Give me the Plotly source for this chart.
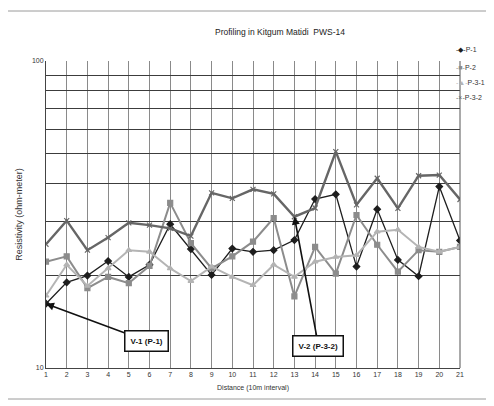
import math
import plotly.graph_objects as go

distance = list(range(1, 22))
p1 = [16.2, 19.0, 20.0, 22.3, 19.8, 21.7, 29.4, 24.4, 20.1, 24.5, 23.9, 24.2, 26.1,
      35.5, 36.8, 21.4, 32.9, 22.5, 19.9, 39.0, 26.0]
p2 = [22.2, 23.1, 18.2, 19.8, 18.9, 21.5, 34.5, 25.5, 21.1, 23.1, 25.8, 30.8, 17.1,
      24.8, 20.3, 31.5, 25.2, 20.6, 24.2, 23.9, 24.8]
p31 = [17.2, 21.7, 18.5, 21.1, 24.2, 23.9, 21.1, 19.2, 21.4, 19.8, 18.6, 21.7, 19.8,
       22.2, 23.0, 23.3, 27.8, 28.2, 24.8, 23.9, 24.8]
p32 = [25.3, 30.2, 24.2, 26.6, 29.7, 29.2, 28.5, 26.9, 37.2, 35.7, 38.2, 36.9, 31.1,
       33.2, 50.7, 34.0, 41.5, 33.1, 42.3, 42.5, 35.4]
series_names = ["P-1", "P-2", "P-3-1", "P-3-2"]
y_gridvals = [10, 20, 30, 40, 50, 60, 70, 80, 90, 100]
y_ticktext = ["10", "", "", "", "", "", "", "", "", "100"]

FONT = "Liberation Sans, Arial, sans-serif"

styles = [
    dict(color="#1e1e1e", width=1.3, symbol="diamond", size=5, glyph="◆"),
    dict(color="#8c8c8c", width=2.0, symbol="square", size=5, glyph="■"),
    dict(color="#b4b4b4", width=2.0, symbol="triangle-up", size=5, glyph="▲"),
    dict(color="#666666", width=2.4, symbol="x-thin-open", size=5, glyph="×"),
]

fig = go.Figure()
for name, vals, st in zip(series_names, [p1, p2, p31, p32], styles):
    fig.add_trace(go.Scatter(
        x=distance, y=vals, name=name, mode="lines+markers",
        line=dict(color=st["color"], width=st["width"]),
        marker=dict(symbol=st["symbol"], size=st["size"], color=st["color"],
                    line=dict(color=st["color"], width=1.2)),
        showlegend=False,
    ))

fig.update_layout(
    width=486, height=398,
    margin=dict(l=38, r=34, t=53, b=38),
    paper_bgcolor="white", plot_bgcolor="white",
    font=dict(family=FONT, size=8, color="#333"),
    title=dict(text="Profiling in Kitgum Matidi  PWS-14", x=272 / 486, xanchor="center",
               y=1 - 24 / 398, yanchor="middle", xref="container", yref="container",
               font=dict(family=FONT, size=8.5, color="#222")),
    showlegend=False,
)

fig.update_xaxes(
    range=[1, 21], tickmode="array", tickvals=distance, ticktext=[str(d) for d in distance],
    showgrid=True, gridcolor="#8a8a8a", gridwidth=1, zeroline=False,
    showline=True, linecolor="#444", linewidth=1, ticks="", ticklen=0,
    title=dict(text="Distance (10m interval)", standoff=7,
               font=dict(family=FONT, size=7, color="#333")),
    tickfont=dict(family=FONT, size=7, color="#333"),
)
fig.update_yaxes(
    type="log", range=[1, 2], tickmode="array", tickvals=y_gridvals, ticktext=y_ticktext,
    showgrid=True, gridcolor="#3c3c3c", gridwidth=1, zeroline=False,
    showline=True, linecolor="#444", linewidth=1, ticks="",
    title=dict(text="Resistivity (ohm-meter)", standoff=7,
               font=dict(family=FONT, size=9, color="#333")),
    tickfont=dict(family=FONT, size=7, color="#333"),
)

# right border of plot area
fig.add_shape(type="line", xref="paper", yref="paper", x0=1, x1=1, y0=0, y1=1,
              line=dict(color="#555", width=1))

# outer frame
fig.add_shape(type="rect", xref="paper", yref="paper",
              x0=(7 - 46) / 414, x1=(492 - 46) / 414, y0=(368 - 399) / 307, y1=(368 - 11) / 307,
              line=dict(color="#9a9a9a", width=1), layer="below")

# legend (compact, at right of plot)
legend_offsets = [11, -6, -21, -36]
for name, st, off in zip(series_names, styles, legend_offsets):
    fig.add_annotation(
        x=1.0, xref="paper", xanchor="left", xshift=-6, y=1 + off / 307, yref="paper",
        yanchor="middle", showarrow=False, align="left",
        text=f'<span style="color:{st["color"]}">-{st["glyph"]}-</span>{name}',
        font=dict(family=FONT, size=7, color="#333"),
    )

fig.add_annotation(x=1, y=math.log10(p1[0]), xref="x", yref="y", text="<b>V-1 (P-1)</b>",
                   showarrow=True, arrowhead=2, arrowsize=1, arrowwidth=1.6, arrowcolor="#111",
                   ax=100, ay=37, bgcolor="white", bordercolor="#111", borderwidth=1.5,
                   borderpad=5, font=dict(family=FONT, size=8, color="#111"))
fig.add_annotation(x=13, y=math.log10(p32[12]), xref="x", yref="y", text="<b>V-2 (P-3-2)</b>",
                   showarrow=True, arrowhead=2, arrowsize=1, arrowwidth=1.6, arrowcolor="#111",
                   ax=24, ay=129, bgcolor="white", bordercolor="#111", borderwidth=1.5,
                   borderpad=5, font=dict(family=FONT, size=8, color="#111"))

fig.write_html("out.html")
